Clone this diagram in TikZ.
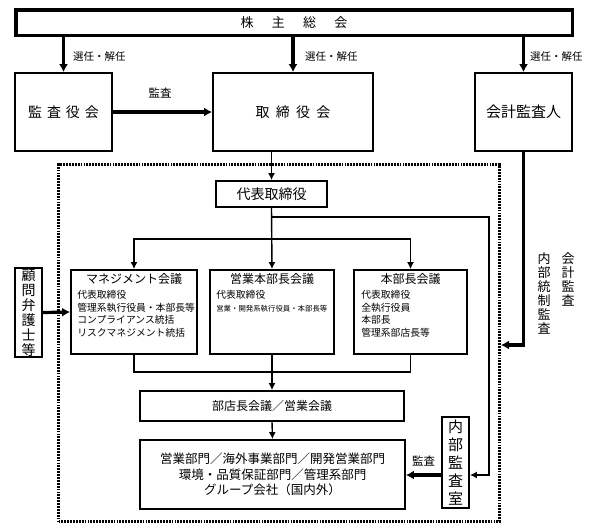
\documentclass[tikz,border=0pt]{standalone}
\usepackage{fontspec}
\setmainfont{Noto Sans CJK JP}
\usetikzlibrary{positioning,arrows.meta}
\newcommand{\fsz}[2]{\fontsize{#1}{#2}\selectfont}

\begin{document}
\begin{tikzpicture}[x=1pt,y=-1pt,
  box/.style={draw,line width=1.8pt,inner sep=0pt},
  link/.style={line width=1.4pt},
  arrow/.style={line width=1.4pt,-{Latex[length=7pt,width=7pt]}},
  bigarrow/.style={line width=3.2pt,-{Latex[length=8pt,width=9pt]}},
  note/.style={inner sep=0pt,font=\fsz{10.5}{12}},
  heading/.style={inner sep=0pt,font=\fsz{12}{14}},
  members/.style={inner sep=0pt,align=left,font=\fsz{9.8}{12.5}},
  vert/.style={inner sep=0pt,align=center,font=\fsz{13}{14}}]
\useasboundingbox (0,0) rectangle (591,531);
\node[draw,line width=3pt,dash pattern=on 1.8pt off 1.1pt,minimum width=441,minimum height=357,inner sep=0pt] (group) at (279,343) {};
\node[box,line width=3.5pt,minimum width=556.5,minimum height=25.5,font=\fsz{13}{15}] (soukai) at (294,22.5) {株\hspace{1.4em}主\hspace{1.4em}総\hspace{1.4em}会};
\node[box,minimum width=97,minimum height=78,font=\fsz{14}{16}] (kansa) at (63.5,112) {監\hspace{0.35em}査\hspace{0.35em}役\hspace{0.35em}会};
\node[box,minimum width=160,minimum height=78,font=\fsz{14}{16}] (torishimari) at (293,112) {取\hspace{0.45em}締\hspace{0.45em}役\hspace{0.45em}会};
\node[box,minimum width=97,minimum height=78,font=\fsz{15}{17}] (kaikei) at (523.5,112) {会計監査人};
\node[box,minimum width=111,minimum height=26,font=\fsz{14}{16}] (daihyo) at (271.5,194) {代表取締役};
\node[box,minimum width=126,minimum height=84] (mgmt) at (134,312) {};
\node[box,minimum width=124,minimum height=84] (eigyo) at (272,312) {};
\node[box,minimum width=113,minimum height=84] (honbu) at (410.5,312) {};
\node[box,minimum width=264,minimum height=30,font=\fsz{12}{14}] (buten) at (272,406) {部店長会議／営業会議};
\node[box,minimum width=265,minimum height=69,align=center,font=\fsz{12.5}{15.5}] (bumon) at (272.5,474.5) {営業部門／海外事業部門／開発営業部門\\環境・品質保証部門／管理系部門\\グループ会社（国内外）};
\node[box,minimum width=27,minimum height=89,align=center,font=\fsz{14}{15}] (komon) at (28.5,312.5) {顧\\問\\弁\\護\\士\\等};
\node[box,minimum width=27,minimum height=91,align=center,font=\fsz{15}{18}] (naibu) at (455.5,462.5) {内\\部\\監\\査\\室};
\node[heading,below=4pt of mgmt.north] (mgmttitle) {マネジメント会議};
\node[members,below right=21pt and 7pt of mgmt.north west] (mgmtlist) {代表取締役\\管理系執行役員・本部長等\\コンプライアンス統括\\リスクマネジメント統括};
\node[heading,below=4pt of eigyo.north] (eigyotitle) {営業本部長会議};
\node[members,below right=21pt and 7pt of eigyo.north west] (eigyolist) {代表取締役\\{\fsz{7.4}{12.5}営業・開発系執行役員・本部長等}};
\node[heading,below=4pt of honbu.north] (honbutitle) {本部長会議};
\node[members,below right=21pt and 8pt of honbu.north west] (honbulist) {代表取締役\\全執行役員\\本部長\\管理系部店長等};
\coordinate (branch) at (271.5,239);
\coordinate (toaudit) at (489,217);
\coordinate (auditin) at (489,475);
\coordinate (merge) at (272,372);
\coordinate (kaikeiout) at (523.5,345);
\draw[bigarrow] (soukai.south -| kansa.north) -- (kansa.north);
\draw[bigarrow] (soukai.south -| torishimari.north) -- (torishimari.north);
\draw[bigarrow] (soukai.south -| kaikei.north) -- (kaikei.north);
\node[note,anchor=west] (sennin1) at (73,57) {選任・解任};
\node[note,anchor=west] (sennin2) at (305,57) {選任・解任};
\node[note,anchor=west] (sennin3) at (530,57) {選任・解任};
\draw[bigarrow] (kansa.east) -- (torishimari.west);
\node[note,font=\fsz{11.5}{13}] (kansalabel) at (160,93) {監査};
\draw[arrow] (torishimari.south -| daihyo.north) -- (daihyo.north);
\draw[arrow] (daihyo.south) -- (eigyo.north);
\draw[arrow] (branch) -| (mgmt.north);
\draw[arrow] (branch) -| (honbu.north);
\draw[arrow] (daihyo.south |- toaudit) -- (toaudit) -- (auditin) -- (naibu.east |- auditin);
\draw[link] (mgmt.south) |- (merge) -| (honbu.south);
\draw[arrow] (eigyo.south) -- (buten.north);
\draw[arrow] (buten.south) -- (bumon.north);
\draw[bigarrow] (komon.east) -- (mgmt.west);
\draw[bigarrow] (naibu.west |- auditin) -- (bumon.east |- auditin);
\node[note,font=\fsz{11.5}{13}] (naibulabel) at (423.5,461) {監査};
\draw[bigarrow] (kaikei.south) -- (kaikeiout) -- (group.east |- kaikeiout);
\node[vert,anchor=north] (kaikeikansa) at (568,252) {会\\計\\監\\査};
\node[vert,anchor=north] (naibutousei) at (544,252) {内\\部\\統\\制\\監\\査};
\end{tikzpicture}
\end{document}
